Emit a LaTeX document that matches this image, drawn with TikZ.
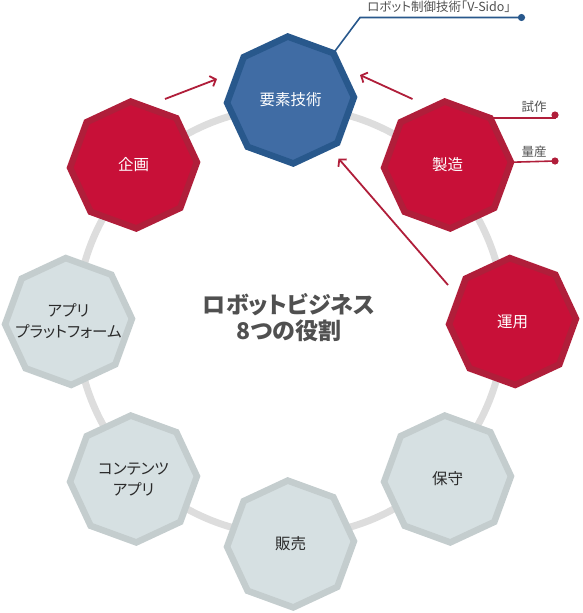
\documentclass[tikz,border=0pt]{standalone}
\usepackage{fontspec}
\setmainfont{Noto Sans CJK JP}[RawFeature=+palt]
\usetikzlibrary{calc,arrows.meta}
\definecolor{redfill}{HTML}{C81038}
\definecolor{redline}{HTML}{B01E3A}
\definecolor{bluefill}{HTML}{406CA4}
\definecolor{blueline}{HTML}{28588C}
\definecolor{grayfill}{HTML}{D6E0E2}
\definecolor{grayline}{HTML}{C4CDCE}
\definecolor{ringgray}{HTML}{DDDDDD}
\definecolor{txtdark}{HTML}{2A2A2A}
\definecolor{txtmid}{HTML}{505050}
\newcommand\octagonat[2]{%
  \path[#2] ($(#1)+(-2.5:63.5)$)
    \foreach \a in {42.5,87.5,...,312.5}{ -- ($(#1)+(\a:63.5)$) } -- cycle;}
\tikzset{
  redocta/.style={fill=redfill,draw=redline,line width=6.5pt,line join=miter},
  blueocta/.style={fill=bluefill,draw=blueline,line width=6.5pt,line join=miter},
  grayocta/.style={fill=grayfill,draw=grayline,line width=6.5pt,line join=miter},
  lbllight/.style={text=white,font=\fontsize{15.5}{21}\selectfont,align=center,inner sep=0pt},
  lbldark/.style={text=txtdark,font=\fontsize{15.5}{21}\selectfont,align=center,inner sep=0pt},
  flowarrow/.style={draw=redline,line width=1.8pt,-{Straight Barb[length=5pt,width=11pt,line width=1.8pt]}},
  calloutred/.style={draw=redline,line width=1.6pt},
  calloutblue/.style={draw=blueline,line width=1.6pt},
  smalllbl/.style={text=txtmid,font=\fontsize{12.5}{14}\selectfont,inner sep=0pt},
}
\begin{document}
\begin{tikzpicture}[x=1pt,y=-1pt]
\useasboundingbox (0,0) rectangle (582,613);
% ring
\coordinate (hub) at (290.5,321.5);
\draw[ringgray,line width=7pt] (hub) circle (214);
% centers
\coordinate (cA) at (290.5,100);
\coordinate (cB) at (447.5,165);
\coordinate (cC) at (512.5,321.5);
\coordinate (cD) at (447.5,479);
\coordinate (cE) at (290.5,544);
\coordinate (cF) at (133.5,479);
\coordinate (cG) at (68.5,321.5);
\coordinate (cH) at (133.5,165);
\octagonat{cA}{blueocta}
\octagonat{cB}{redocta}
\octagonat{cC}{redocta}
\octagonat{cD}{grayocta}
\octagonat{cE}{grayocta}
\octagonat{cF}{grayocta}
\octagonat{cG}{grayocta}
\octagonat{cH}{redocta}
% labels
\node[lbllight] (yoso) at (cA) {要素技術};
\node[lbllight] (seizo) at (cB) {製造};
\node[lbllight] (unyo) at (cC) {運用};
\node[lbldark] (hoshu) at (cD) {保守};
\node[lbldark] (hanbai) at (cE) {販売};
\node[lbldark] (content) at (cF) {コンテンツ\\アプリ};
\node[lbldark] (platform) at (cG) {アプリ\\プラットフォーム};
\node[lbllight] (kikaku) at (cH) {企画};
% center title
\node[text=txtmid,font=\fontsize{23}{25.5}\selectfont\bfseries,align=center,inner sep=0pt] (title) at (289,317.5) {ロボットビジネス\\8つの役割};
% flow arrows
\coordinate (a1s) at (165,99);   \coordinate (a1e) at (217,79);
\coordinate (a2s) at (412.5,99); \coordinate (a2e) at (360,75);
\coordinate (a3s) at (448,285);  \coordinate (a3e) at (338.5,158.5);
\draw[flowarrow] (a1s) -- (a1e);
\draw[flowarrow] (a2s) -- (a2e);
\draw[flowarrow] (a3s) -- (a3e);
% blue callout
\coordinate (vA) at ($(cA)+(-47.5:63.5)$);
\coordinate (kA) at (360,17.5);
\coordinate (dA) at (521.5,17.5);
\draw[calloutblue] (vA) -- (kA) -- (dA);
\fill[blueline] (dA) circle (3.6);
\node[smalllbl,anchor=base] (vsido) at (439,12) {ロボット制御技術「V-Sido」};
% red callouts
\coordinate (vB1) at ($(cB)+(-47.5:63.5)$);
\coordinate (dB1) at (555,115);
\coordinate (vB2) at ($(cB)+(-2.5:63.5)$);
\coordinate (dB2) at (555,161);
\draw[calloutred] (vB1) -- (vB1 -| dB1) -- (dB1);
\draw[calloutred] (vB2) -- (dB2);
\fill[redline] (dB1) circle (3.6);
\fill[redline] (dB2) circle (3.6);
\node[smalllbl,anchor=base] (shisaku) at (534,111) {試作};
\node[smalllbl,anchor=base] (ryosan) at (534,156) {量産};
\end{tikzpicture}
\end{document}
